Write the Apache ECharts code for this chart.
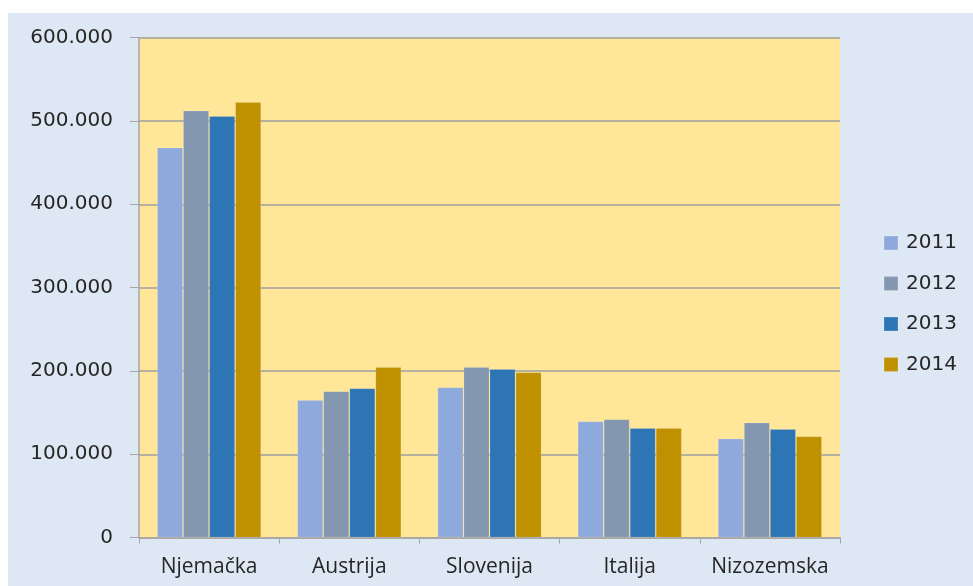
<!DOCTYPE html>
<html>
<head>
<meta charset="utf-8">
<script src="https://cdn.jsdelivr.net/npm/echarts@6/dist/echarts.min.js"></script>
<style>
    html, body {
        margin: 0;
        padding: 0;
        background: #fff;
    }
    .main-box {
        position: absolute;
        left: 8px;
        top: 13px;
        width: 965px;
        height: 573px;
    }
</style>
</head>
<body>
<div id="main" class="main-box"></div>
<script>
// podaci očitani s grafikona
const countries = ['Njemačka', 'Austrija', 'Slovenija', 'Italija', 'Nizozemska']
const years = ['2011', '2012', '2013', '2014']
const v2011 = [468000, 165200, 180400, 139600, 118800]
const v2012 = [512400, 175600, 204800, 142000, 138000]
const v2013 = [506000, 179200, 202400, 131600, 130400]
const v2014 = [522800, 204800, 198400, 131600, 121600]
const colors = ['#8eaadc', '#8497b0', '#2e75b6', '#bf9000']

const chart = echarts.init(document.getElementById('main'))

const fmt = (v) => (v === 0 ? '0' : String(v).replace(/\B(?=(\d{3})+(?!\d))/g, '.'))

chart.setOption({
    backgroundColor: '#dde8f4',
    color: colors,
    animation: false,
    grid: {
        left: 131,
        top: 24.6,
        width: 701,
        height: 500,
        show: true,
        backgroundColor: '#ffe699',
        borderWidth: 0,
    },
    legend: {
        orient: 'vertical',
        left: 870,
        top: 215,
        itemWidth: 14,
        itemHeight: 14,
        itemGap: 20.5,
        icon: 'rect',
        data: years,
        textStyle: {
            fontFamily: 'DejaVu Sans',
            fontSize: 20,
            lineHeight: 20,
            color: '#262626',
            padding: [0, 0, 0, 3],
        },
    },
    xAxis: {
        type: 'category',
        data: countries,
        axisLine: { lineStyle: { color: '#a6a6a6', width: 1.5 } },
        axisTick: { show: true, length: 6, lineStyle: { color: '#a6a6a6' } },
        axisLabel: {
            interval: 0,
            margin: 19,
            fontFamily: 'Open Sans',
            fontSize: 21,
            color: '#262626',
        },
    },
    yAxis: {
        type: 'value',
        min: 0,
        max: 600000,
        interval: 100000,
        axisLine: { show: true, lineStyle: { color: '#a6a6a6', width: 1.5 } },
        axisTick: { show: true, length: 9, lineStyle: { color: '#a6a6a6' } },
        splitLine: { lineStyle: { color: '#b5b1a0', width: 2 } },
        axisLabel: {
            margin: 26,
            fontFamily: 'DejaVu Sans',
            fontSize: 20,
            color: '#262626',
            formatter: fmt,
        },
    },
    series: [v2011, v2012, v2013, v2014].map((d, i) => ({
        name: years[i],
        type: 'bar',
        data: d,
        barGap: '0%',
        barCategoryGap: '25.7%',
        itemStyle: {
            borderColor: 'rgba(255,255,255,0.12)',
            borderWidth: 1,
        },
    })),
})
</script>
</body>
</html>
